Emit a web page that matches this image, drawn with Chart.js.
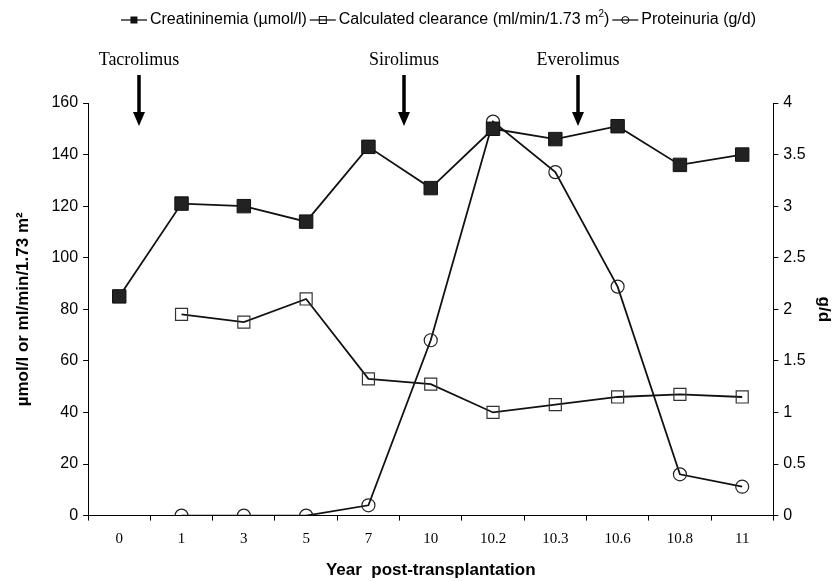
<!DOCTYPE html>
<html>
<head>
<meta charset="utf-8">
<script src="https://cdn.jsdelivr.net/npm/chart.js@4.4.1/dist/chart.umd.min.js"></script>
<style>
  html, body { margin: 0; padding: 0; background: #fff; }
  #wrap { width: 834px; height: 581px; }
</style>
</head>
<body>
<div id="wrap"><canvas id="myChart" width="834" height="581"></canvas></div>
<script>
// data
const years = ["0", "1", "3", "5", "7", "10", "10.2", "10.3", "10.6", "10.8", "11"];
const creatininemia = [85, 121, 120, 114, 143, 127, 150, 146, 151, 136, 140];
const clearance = [null, 78, 75, 84, 53, 51, 40, 43, 46, 47, 46];
const proteinuria = [null, 0, 0, 0, 0.1, 1.7, 3.82, 3.33, 2.22, 0.4, 0.28];

// drug switches, placed between categories (category index)
const drugNames = ["Tacrolimus", "Sirolimus", "Everolimus"];
const drugAt = [0.32, 4.57, 7.37];

const sans = '"Liberation Sans", Arial, sans-serif';
const serif = '"Liberation Serif", "Times New Roman", serif';

// legend + arrows drawn on the canvas
const extras = {
    id: 'extras',
    afterDraw(chart) {
        const ctx = chart.ctx;
        const x = chart.scales.x;
        ctx.save();

        // arrows
        ctx.fillStyle = '#000';
        ctx.strokeStyle = '#000';
        ctx.textAlign = 'center';
        ctx.textBaseline = 'alphabetic';
        ctx.font = '18px ' + serif;
        drugNames.forEach((name, i) => {
            let px = Math.round(x.getPixelForValue(drugAt[i]));
            ctx.fillText(name, px, 65);
            ctx.lineWidth = 3.5;
            ctx.beginPath();
            ctx.moveTo(px, 75);
            ctx.lineTo(px, 115);
            ctx.stroke();
            ctx.beginPath();
            ctx.moveTo(px - 6, 112);
            ctx.lineTo(px + 6, 112);
            ctx.lineTo(px, 126);
            ctx.closePath();
            ctx.fill();
        });

        // legend
        const font = '16px ' + sans;
        const small = '10px ' + sans;
        ctx.textAlign = 'left';
        ctx.textBaseline = 'middle';
        const items = [
            { parts: [["Creatininemia (\u00b5mol/l)", font]], marker: 'rectFill' },
            { parts: [["Calculated clearance (ml/min/1.73 m", font], ["2", small], [")", font]], marker: 'rectOpen' },
            { parts: [["Proteinuria (g/d)", font]], marker: 'circle' }
        ];
        const markW = 26, gap = 3;
        let total = 0;
        items.forEach(it => {
            it.w = 0;
            it.parts.forEach(p => { ctx.font = p[1]; it.w += ctx.measureText(p[0]).width; });
            total += markW + gap + it.w + gap;
        });
        let lx = 440 - total / 2;
        const ly = 20;
        items.forEach(it => {
            ctx.lineWidth = 1.2;
            ctx.strokeStyle = '#000';
            ctx.beginPath();
            ctx.moveTo(lx, ly);
            ctx.lineTo(lx + markW, ly);
            ctx.stroke();
            let cx = lx + markW / 2;
            ctx.lineWidth = 1;
            if (it.marker === 'rectFill') {
                ctx.fillStyle = '#111';
                ctx.fillRect(cx - 3.5, ly - 3.5, 7, 7);
            } else if (it.marker === 'rectOpen') {
                ctx.strokeRect(cx - 3.5, ly - 3.5, 7, 7);
            } else {
                ctx.beginPath();
                ctx.arc(cx, ly, 3.5, 0, Math.PI * 2);
                ctx.stroke();
            }
            let tx = lx + markW + gap;
            ctx.fillStyle = '#000';
            it.parts.forEach(p => {
                ctx.font = p[1];
                ctx.fillText(p[0], tx, p[1] === small ? ly - 6 : ly);
                tx += ctx.measureText(p[0]).width;
            });
            lx = tx + gap;
        });
        ctx.restore();
    }
};

new Chart("myChart", {
    type: "line",
    data: {
        labels: years,
        datasets: [
            {
                label: 'Creatininemia (\u00b5mol/l)',
                data: creatininemia,
                yAxisID: 'y',
                borderColor: '#111',
                borderWidth: 1.8,
                pointStyle: 'rect',
                pointRadius: 9.5,
                pointBorderWidth: 1,
                pointBackgroundColor: '#222',
                pointBorderColor: '#111',
                tension: 0,
                fill: false
            },
            {
                label: 'Calculated clearance (ml/min/1.73 m\u00b2)',
                data: clearance,
                yAxisID: 'y',
                borderColor: '#111',
                borderWidth: 1.8,
                pointStyle: 'rect',
                pointRadius: 8.5,
                pointBorderWidth: 1.2,
                pointBackgroundColor: 'rgba(0,0,0,0)',
                pointBorderColor: '#333',
                tension: 0,
                fill: false
            },
            {
                label: 'Proteinuria (g/d)',
                data: proteinuria,
                yAxisID: 'y1',
                borderColor: '#111',
                borderWidth: 1.8,
                pointStyle: 'circle',
                pointRadius: 6.5,
                pointBorderWidth: 1.2,
                pointBackgroundColor: 'rgba(0,0,0,0)',
                pointBorderColor: '#222',
                tension: 0,
                fill: false
            }
        ]
    },
    options: {
        responsive: false,
        animation: false,
        layout: {
            padding: { top: 103, left: 13, right: 0, bottom: 0 }
        },
        scales: {
            x: {
                offset: true,
                grid: {
                    offset: true,
                    drawOnChartArea: false,
                    color: '#000',
                    tickLength: 5
                },
                border: { color: '#000', width: 1 },
                ticks: {
                    color: '#000',
                    padding: 9,
                    font: { family: serif, size: 15 }
                },
                title: {
                    display: true,
                    text: 'Year  post-transplantation',
                    color: '#000',
                    font: { family: sans, size: 17, weight: 'bold' },
                    padding: { top: 4, bottom: 0 }
                }
            },
            y: {
                position: 'left',
                min: 0,
                max: 160,
                grid: {
                    drawOnChartArea: false,
                    color: '#000',
                    tickLength: 5
                },
                border: { color: '#000', width: 1 },
                ticks: {
                    stepSize: 20,
                    color: '#000',
                    padding: 5,
                    font: { family: sans, size: 16 }
                },
                title: {
                    display: true,
                    text: '\u00b5mol/l or ml/min/1.73 m\u00b2',
                    color: '#000',
                    font: { family: sans, size: 17, weight: 'bold' },
                    padding: { top: 0, bottom: 13 }
                }
            },
            y1: {
                position: 'right',
                min: 0,
                max: 4,
                grid: {
                    drawOnChartArea: false,
                    color: '#000',
                    tickLength: 5
                },
                border: { color: '#000', width: 1 },
                ticks: {
                    stepSize: 0.5,
                    color: '#000',
                    padding: 5,
                    font: { family: sans, size: 16 },
                    callback: v => String(v)
                },
                title: {
                    display: true,
                    text: 'g/d',
                    color: '#000',
                    font: { family: sans, size: 17, weight: 'bold' },
                    padding: { top: 0, bottom: 3 }
                }
            }
        },
        plugins: {
            legend: { display: false },
            tooltip: { enabled: false }
        }
    },
    plugins: [extras]
});
</script>
</body>
</html>
